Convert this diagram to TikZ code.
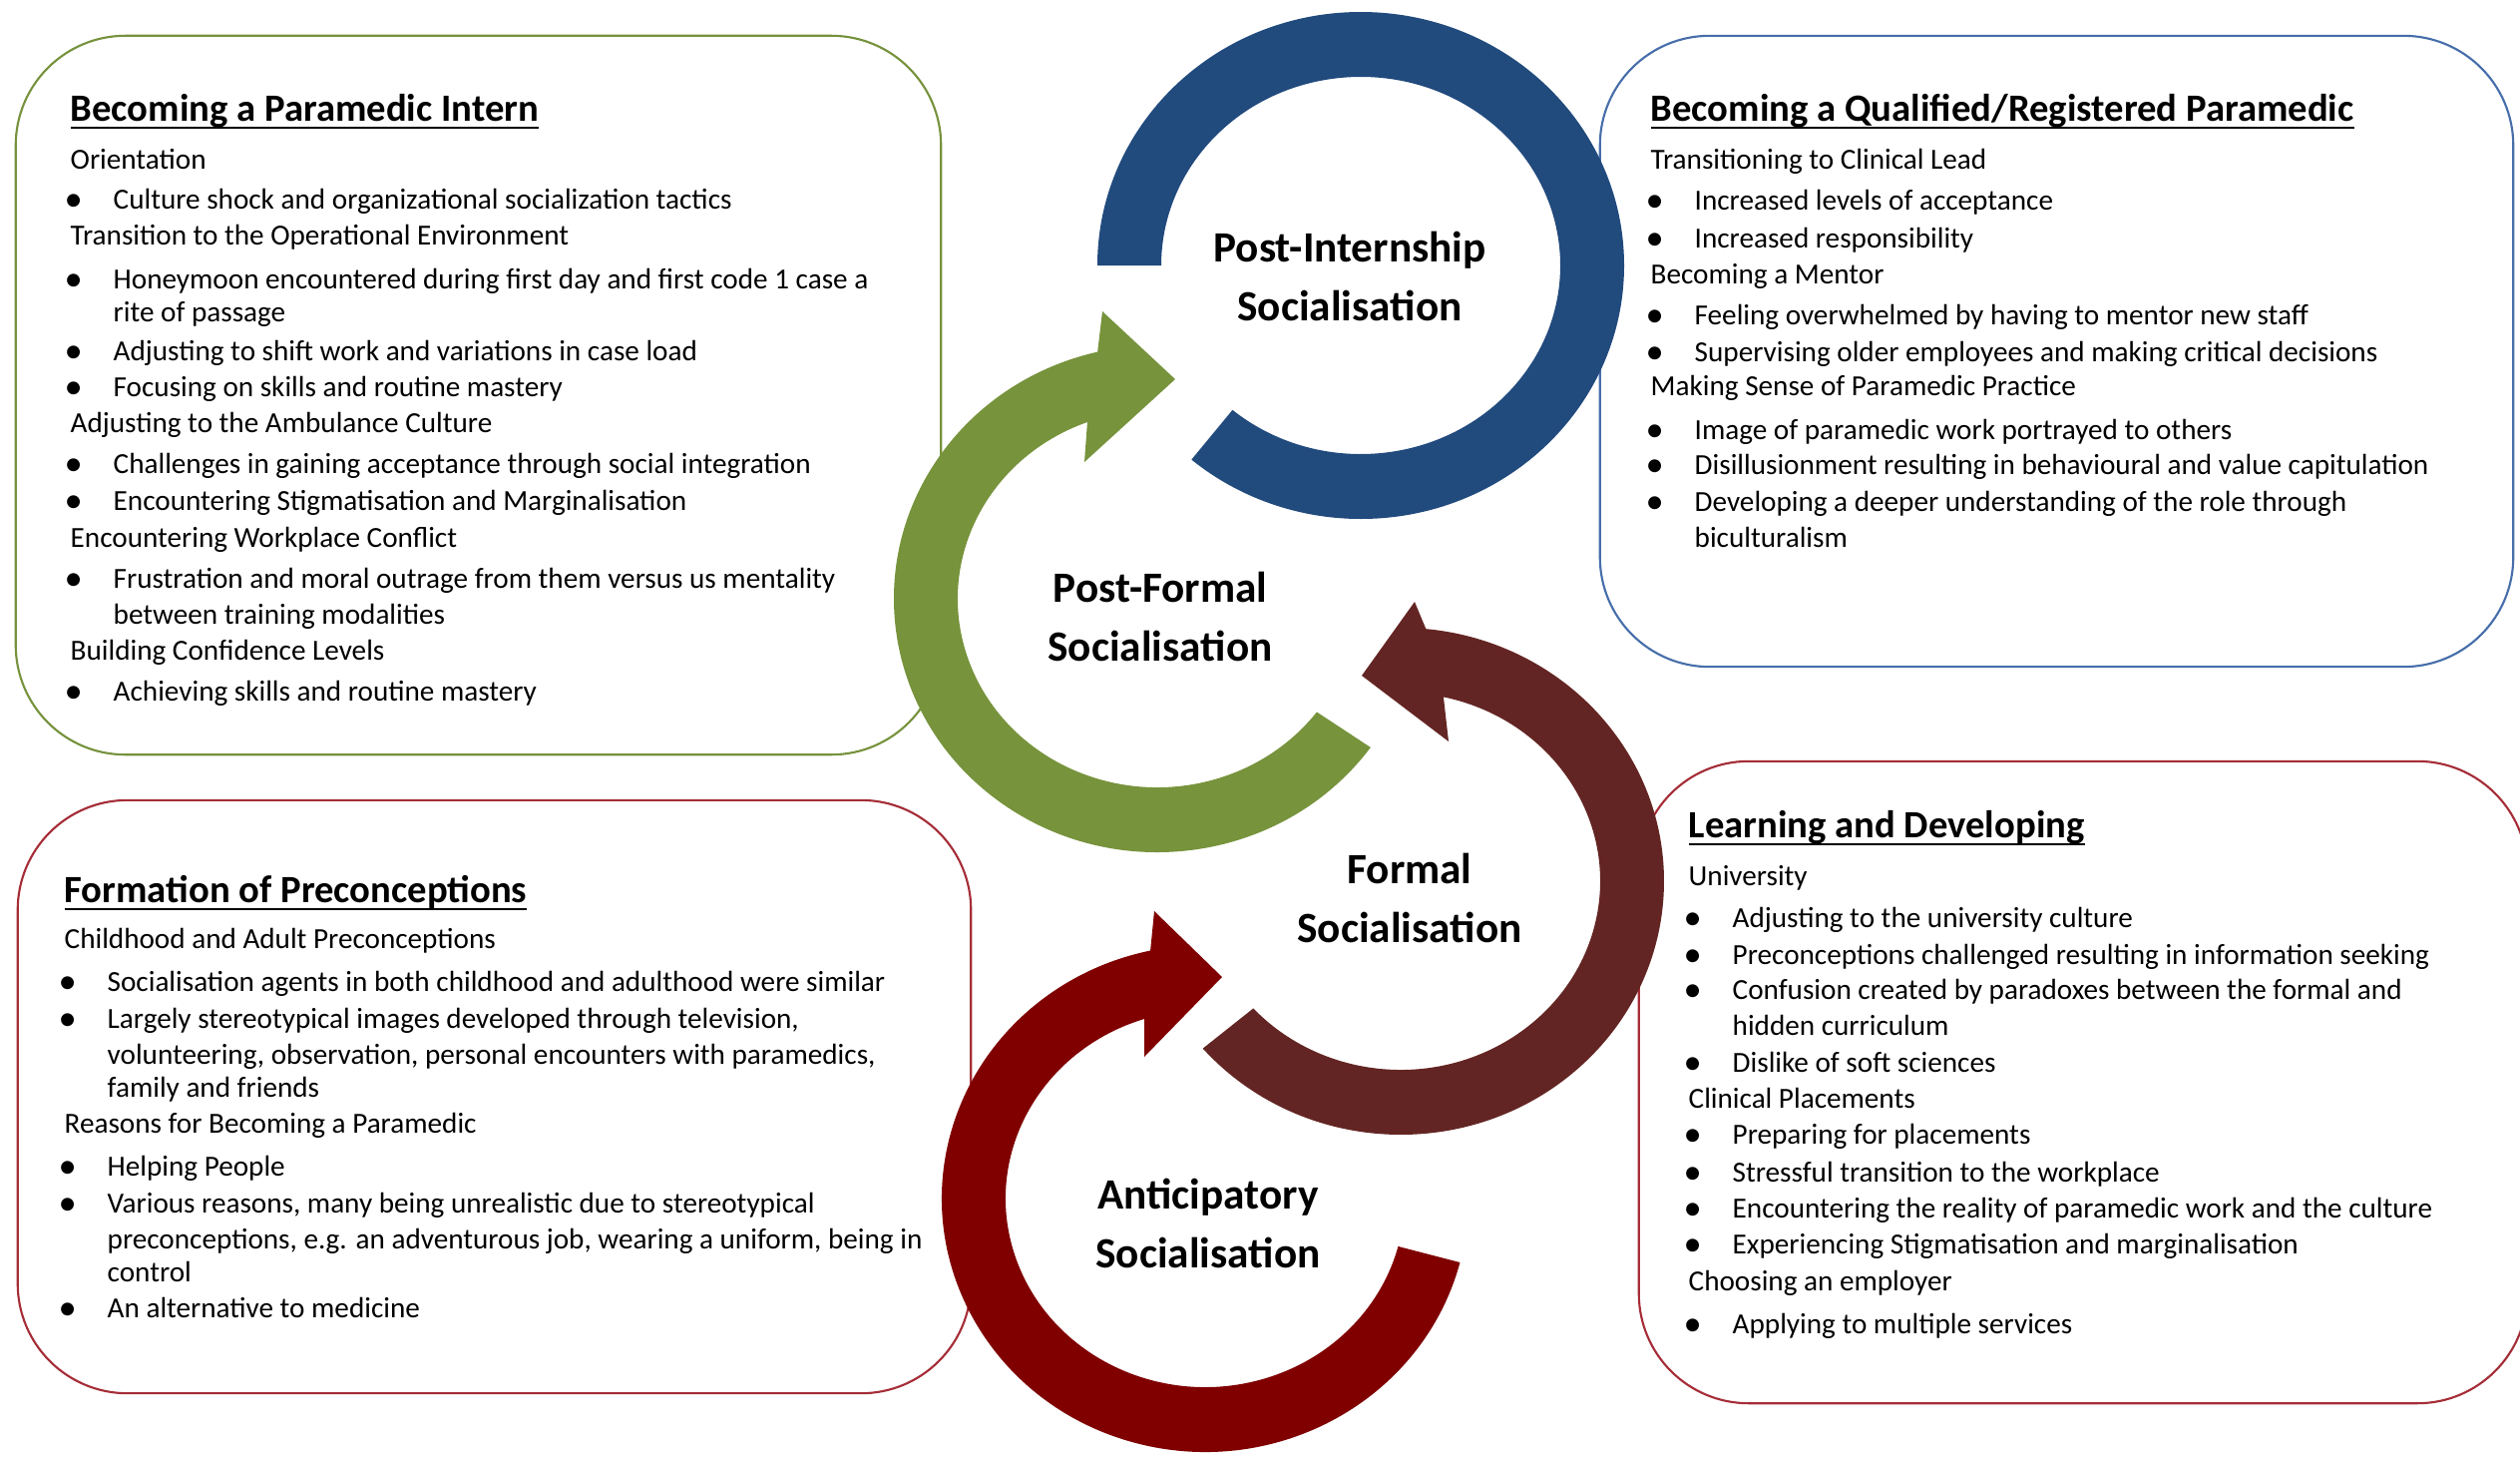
\documentclass[tikz,border=0pt]{standalone}
\usepackage{fontspec}
\usepackage{graphicx}
\setmainfont{Carlito}
\usetikzlibrary{calc}

\definecolor{ringblue}{RGB}{33,74,125}
\definecolor{ringgreen}{RGB}{119,147,60}
\definecolor{ringbrown}{RGB}{99,37,35}
\definecolor{ringred}{RGB}{128,0,0}
\definecolor{edgegreen}{RGB}{118,146,60}
\definecolor{edgeblue}{RGB}{70,110,170}
\definecolor{edgered}{RGB}{165,45,55}

\newcommand\bodyf{\fontsize{8.3}{9.9}\selectfont}
\newcommand\headf{\fontsize{11}{13}\selectfont\bfseries}
\newcommand\ringf{\fontsize{12.3}{17}\selectfont\bfseries}
\newcommand\bul{\llap{\smash{\raisebox{-0.2ex}{\scalebox{1.25}{\textbullet}}}\hspace{8.8pt}}}
\newcommand\hdul[1]{\setbox0\hbox{#1}\rlap{\rule[-2.3pt]{\wd0}{0.65pt}}\box0}

\tikzset{
  panel/.style={draw=#1, line width=0.6pt, fill=white, rounded corners=1.1cm, inner sep=0pt},
  sub/.style={anchor=base west, inner sep=0pt, yshift=-2.6pt, font=\bodyf},
  itm/.style={sub, execute at begin node=\bul},
  head/.style={anchor=base west, inner sep=0pt, yshift=-3.5pt, font=\headf},
  lbl/.style={align=center, font=\ringf, inner sep=0pt},
}

\begin{document}
\begin{tikzpicture}[x=0.01cm, y=-0.01cm]
\clip (0,0) rectangle (2526,1460);
\fill[white] (0,0) rectangle (2526,1460);

% ---------- panels ----------
\node[panel=edgegreen, minimum width=9.27cm, minimum height=7.2cm] (intern) at (479.5,396) {};
\node[panel=edgeblue, minimum width=9.15cm, minimum height=6.32cm] (qualified) at (2061.5,352) {};
\node[panel=edgered, minimum width=9.55cm, minimum height=5.94cm] (preconc) at (495.5,1099) {};
\node[panel=edgered, minimum width=8.9cm, minimum height=6.43cm] (learning) at (2088,1084.5) {};

% ---------- Becoming a Paramedic Intern ----------
\node[head] (i0) at (70,109) {\hdul{Becoming a Paramedic Intern}};
\node[sub] (i1) at (70,160) {Orientation};
\node[itm] (i2) at (113,200) {Culture shock and organizational socialization tactics};
\node[sub] (i3) at (70,236) {Transition to the Operational Environment};
\node[itm] (i4) at (113,280) {Honeymoon encountered during first day and first code 1 case a};
\node[sub] (i5) at (113,313) {rite of passage};
\node[itm] (i6) at (113,352) {Adjusting to shift work and variations in case load};
\node[itm] (i7) at (113,388) {Focusing on skills and routine mastery};
\node[sub] (i8) at (70,424) {Adjusting to the Ambulance Culture};
\node[itm] (i9) at (113,465) {Challenges in gaining acceptance through social integration};
\node[itm] (i10) at (113,502) {Encountering Stigmatisation and Marginalisation};
\node[sub] (i11) at (70,539) {Encountering Workplace Conflict};
\node[itm] (i12) at (113,580) {Frustration and moral outrage from them versus us mentality};
\node[sub] (i13) at (113,616) {between training modalities};
\node[sub] (i14) at (70,652) {Building Confidence Levels};
\node[itm] (i15) at (113,693) {Achieving skills and routine mastery};

% ---------- Becoming a Qualified/Registered Paramedic ----------
\node[head] (q0) at (1654,109) {\hdul{Becoming a Qualified/Registered Paramedic}};
\node[sub] (q1) at (1654,160) {Transitioning to Clinical Lead};
\node[itm] (q2) at (1698,201) {Increased levels of acceptance};
\node[itm] (q3) at (1698,239) {Increased responsibility};
\node[sub] (q4) at (1654,275) {Becoming a Mentor};
\node[itm] (q5) at (1698,316) {Feeling overwhelmed by having to mentor new staff};
\node[itm] (q6) at (1698,353) {Supervising older employees and making critical decisions};
\node[sub] (q7) at (1654,387) {Making Sense of Paramedic Practice};
\node[itm] (q8) at (1698,431) {Image of paramedic work portrayed to others};
\node[itm] (q9) at (1698,466) {Disillusionment resulting in behavioural and value capitulation};
\node[itm] (q10) at (1698,503) {Developing a deeper understanding of the role through};
\node[sub] (q11) at (1698,539) {biculturalism};

% ---------- Formation of Preconceptions ----------
\node[head] (f0) at (64,892) {\hdul{Formation of Preconceptions}};
\node[sub] (f1) at (64,941) {Childhood and Adult Preconceptions};
\node[itm] (f2) at (107,984) {Socialisation agents in both childhood and adulthood were similar};
\node[itm] (f3) at (107,1021) {Largely stereotypical images developed through television,};
\node[sub] (f4) at (107,1057) {volunteering, observation, personal encounters with paramedics,};
\node[sub] (f5) at (107,1090) {family and friends};
\node[sub] (f6) at (64,1126) {Reasons for Becoming a Paramedic};
\node[itm] (f7) at (107,1169) {Helping People};
\node[itm] (f8) at (107,1206) {Various reasons, many being unrealistic due to stereotypical};
\node[sub] (f9) at (107,1242) {preconceptions, e.g. an adventurous job, wearing a uniform, being in};
\node[sub] (f10) at (107,1275) {control};
\node[itm] (f11) at (107,1311) {An alternative to medicine};

% ---------- Learning and Developing ----------
\node[head] (l0) at (1692,827) {\hdul{Learning and Developing}};
\node[sub] (l1) at (1692,878) {University};
\node[itm] (l2) at (1736,920) {Adjusting to the university culture};
\node[itm] (l3) at (1736,957) {Preconceptions challenged resulting in information seeking};
\node[itm] (l4) at (1736,992) {Confusion created by paradoxes between the formal and};
\node[sub] (l5) at (1736,1028) {hidden curriculum};
\node[itm] (l6) at (1736,1065) {Dislike of soft sciences};
\node[sub] (l7) at (1692,1101) {Clinical Placements};
\node[itm] (l8) at (1736,1137) {Preparing for placements};
\node[itm] (l9) at (1736,1175) {Stressful transition to the workplace};
\node[itm] (l10) at (1736,1211) {Encountering the reality of paramedic work and the culture};
\node[itm] (l11) at (1736,1247) {Experiencing Stigmatisation and marginalisation};
\node[sub] (l12) at (1692,1284) {Choosing an employer};
\node[itm] (l13) at (1736,1327) {Applying to multiple services};

% ---------- circular arrows (local frames: y up, origin at ring centre) ----------
% Anticipatory (red)
\begin{scope}[shift={(1208,1201)}, yscale=-1]
\fill[ringred] (-14.6:264 and 254) arc[start angle=-14.6, end angle=-258, x radius=264, y radius=254]
  -- (-51,288) -- (17,222) -- (-61,142)
  -- (-252.3:200 and 189) arc[start angle=-252.3, end angle=-14.7, x radius=200, y radius=189] -- cycle;
\end{scope}
% Formal (brown)
\begin{scope}[shift={(1404,883)}, yscale=-1]
\fill[ringbrown] (-138.7:264 and 254) arc[start angle=-138.7, end angle=84.5, x radius=264, y radius=254]
  -- (14,280) -- (-39,206) -- (48,140)
  -- (77.6:200 and 189) arc[start angle=77.6, end angle=-137.6, x radius=200, y radius=189] -- cycle;
\end{scope}
% Post-formal (green)
\begin{scope}[shift={(1160,600)}, yscale=-1]
\fill[ringgreen] (-35.9:264 and 254) arc[start angle=-35.9, end angle=-256.9, x radius=264, y radius=254]
  -- (-55,288) -- (18,220) -- (-73,137)
  -- (-249.5:200 and 189) arc[start angle=-249.5, end angle=-36.9, x radius=200, y radius=189] -- cycle;
\end{scope}
% Post-internship (blue, open ring)
\begin{scope}[shift={(1364,266)}, yscale=-1]
\fill[ringblue] (180:264 and 254) arc[start angle=180, end angle=-130, x radius=264, y radius=254]
  -- (-130:200 and 189) arc[start angle=-130, end angle=180, x radius=200, y radius=189] -- cycle;
\end{scope}

% ---------- stage labels ----------
\node[lbl] (stPI) at (1353,277) {Post-Internship\\Socialisation};
\node[lbl] (stPF) at (1163,618) {Post-Formal\\Socialisation};
\node[lbl] (stF) at (1413,900) {Formal\\Socialisation};
\node[lbl] (stA) at (1211,1226) {Anticipatory\\Socialisation};
\end{tikzpicture}
\end{document}
